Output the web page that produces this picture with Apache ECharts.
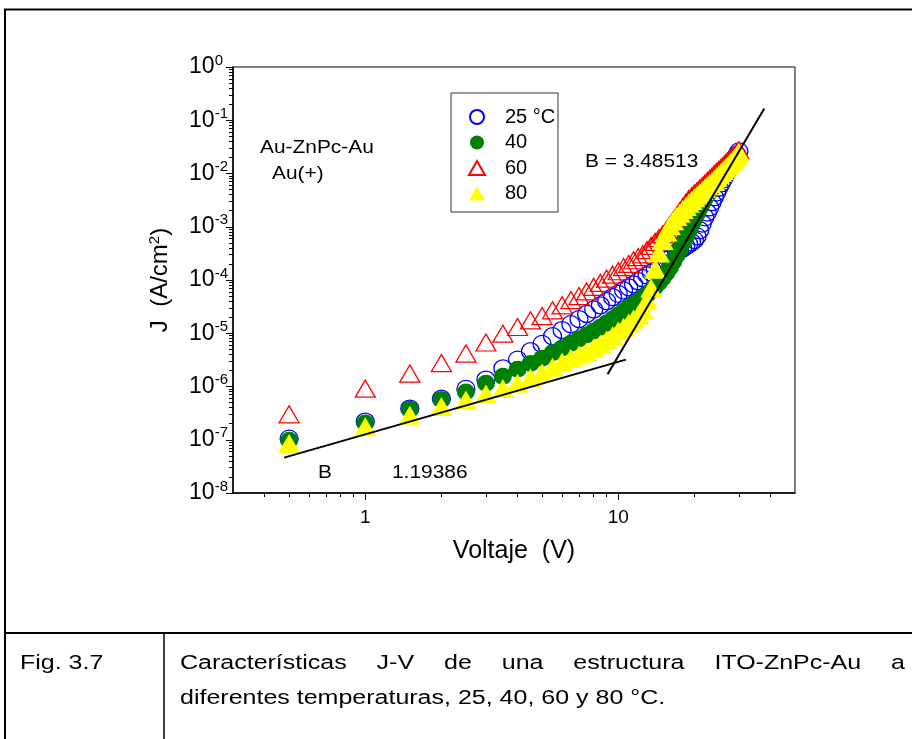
<!DOCTYPE html>
<html><head><meta charset="utf-8">
<script src="https://cdn.jsdelivr.net/npm/echarts@6/dist/echarts.min.js"></script>
<style>html,body{margin:0;padding:0;background:#fff}#c{width:912px;height:739px}</style>
</head><body><div id="c"></div><script>
const FONT = '"Liberation Sans", Arial, Helvetica, sans-serif';

// ---- data ----
const voltage = [0.5,1,1.5,2,2.5,3,3.5,4,4.5,5,5.5,6,6.5,7,7.5,8,8.5,9,9.5,10,
  10.5,11,11.5,12,12.5,13,13.5,14,14.5,15,15.5,16,16.5,17,17.5,18,18.5,19,19.5,20,
  20.5,21,21.5,22,22.5,23,23.5,24,24.5,25,25.5,26,26.5,27,27.5,28,28.5,29,29.5,30];

const j25 = [1.05e-7,2.2e-7,3.85e-7,5.9e-7,9.0e-7,1.35e-6,2.2e-6,3.2e-6,4.6e-6,6.3e-6,
  8.8e-6,1.15e-5,1.48e-5,1.85e-5,2.3e-5,2.8e-5,3.35e-5,4.0e-5,4.75e-5,5.5e-5,
  6.4e-5,7.3e-5,8.3e-5,9.5e-5,1.08e-4,1.22e-4,1.38e-4,1.55e-4,1.8e-4,2.1e-4,
  2.4e-4,2.7e-4,3.0e-4,3.3e-4,3.6e-4,3.9e-4,4.3e-4,4.7e-4,5.1e-4,5.6e-4,
  6.6e-4,8.6e-4,1.15e-3,1.5e-3,1.85e-3,2.3e-3,2.9e-3,3.6e-3,4.4e-3,5.4e-3,
  6.5e-3,7.8e-3,9.2e-3,1.08e-2,1.25e-2,1.45e-2,1.7e-2,1.95e-2,2.25e-2,2.6e-2];

const j40 = [9.8e-8,2.07e-7,3.73e-7,5.7e-7,7.9e-7,1.15e-6,1.55e-6,2.1e-6,2.7e-6,3.4e-6,
  4.3e-6,5.3e-6,6.5e-6,7.8e-6,9.3e-6,1.1e-5,1.3e-5,1.55e-5,1.85e-5,2.2e-5,
  2.6e-5,3.0e-5,3.5e-5,4.0e-5,4.6e-5,5.3e-5,6.2e-5,7.5e-5,9.0e-5,1.1e-4,
  1.35e-4,1.7e-4,2.2e-4,2.9e-4,3.8e-4,5.0e-4,6.5e-4,8.5e-4,1.1e-3,1.4e-3,
  1.8e-3,2.25e-3,2.8e-3,3.4e-3,4.0e-3,4.7e-3,5.4e-3,6.2e-3,7.0e-3,7.9e-3,
  8.8e-3,9.8e-3,1.08e-2,1.19e-2,1.3e-2,1.42e-2,1.55e-2,1.7e-2,1.85e-2,2.0e-2];

const j60 = [3.0e-7,9.1e-7,1.75e-6,2.75e-6,4.15e-6,6.7e-6,9.8e-6,1.31e-5,1.75e-5,2.1e-5,
  2.7e-5,3.35e-5,4.2e-5,5.0e-5,6.1e-5,7.4e-5,8.8e-5,1.06e-4,1.26e-4,1.46e-4,
  1.75e-4,2.0e-4,2.35e-4,2.7e-4,3.04e-4,3.64e-4,4.37e-4,5.18e-4,6.1e-4,7.2e-4,
  8.7e-4,1.08e-3,1.32e-3,1.61e-3,1.95e-3,2.35e-3,2.82e-3,3.29e-3,3.72e-3,4.18e-3,
  4.69e-3,5.23e-3,5.82e-3,6.49e-3,7.2e-3,7.9e-3,8.8e-3,9.7e-3,1.07e-2,1.17e-2,
  1.28e-2,1.4e-2,1.54e-2,1.67e-2,1.82e-2,1.97e-2,2.14e-2,2.32e-2,2.51e-2,2.72e-2];

const j80 = [8.5e-8,1.75e-7,2.9e-7,4.2e-7,5.6e-7,7.2e-7,9.2e-7,1.15e-6,1.45e-6,1.8e-6,
  2.3e-6,2.9e-6,3.4e-6,3.9e-6,4.5e-6,5.3e-6,6.3e-6,7.5e-6,9.0e-6,1.1e-5,
  1.3e-5,1.55e-5,1.85e-5,2.2e-5,2.8e-5,4.2e-5,7.0e-5,1.6e-4,3.2e-4,5.5e-4,
  8.0e-4,1.05e-3,1.3e-3,1.55e-3,1.8e-3,2.1e-3,2.4e-3,2.75e-3,3.1e-3,3.5e-3,
  3.9e-3,4.35e-3,4.8e-3,5.3e-3,5.9e-3,6.5e-3,7.1e-3,7.8e-3,8.6e-3,9.5e-3,
  1.04e-2,1.14e-2,1.25e-2,1.37e-2,1.5e-2,1.65e-2,1.82e-2,2.0e-2,2.2e-2,2.5e-2];

const fitLowV = [0.478, 10.72];
const fitLowJ = [4.62e-8, 3.2e-6];
const fitHighV = [9.08, 37.8];
const fitHighJ = [1.7e-6, 0.166];

const seriesNames = ['25 °C', '40', '60', '80'];
const xMajorTicks = [1, 10];
const xMinorTicks = [0.4,0.5,0.6,0.7,0.8,0.9,2,3,4,5,6,7,8,9,20,30,40];
const yDecades = [1e-8,1e-7,1e-6,1e-5,1e-4,1e-3,1e-2,1e-1,1];
const yMinorMultipliers = [2,3,4,5,6,7,8,9];

const captionLabel = 'Fig. 3.7';
const captionLine1 = ['Características','J-V','de','una','estructura','ITO-ZnPc-Au','a'];
const captionLine2 = 'diferentes temperaturas, 25, 40, 60 y 80 °C.';

// ---- build ----
const pair = (xs, ys) => xs.map((v, i) => [v, ys[i]]);
const yMinorTicks = [];
yDecades.slice(0, -1).forEach(d => yMinorMultipliers.forEach(m => yMinorTicks.push(d * m)));

const chart = echarts.init(document.getElementById('c'), null, {renderer: 'canvas'});

const black = '#000';
const xBase = {type: 'log', logBase: 10, min: 0.3, max: 50, gridIndex: 0, position: 'bottom',
  splitLine: {show: false}, minorTick: {show: false}, minorSplitLine: {show: false}};
const yBase = {type: 'log', logBase: 10, min: 1e-8, max: 1, gridIndex: 0, position: 'left',
  splitLine: {show: false}, minorTick: {show: false}, minorSplitLine: {show: false}};

// caption (horizontally stretched like the reference) with justified first line
const capScale = 1.25;
const ctx = document.createElement('canvas').getContext('2d');
const capFont = '20px "Liberation Sans"';
ctx.font = capFont;
const wWidths = captionLine1.map(w => ctx.measureText(w).width * capScale);
const capX0 = 180, capX1 = 905;
const capGap = (capX1 - capX0 - wWidths.reduce((a, b) => a + b, 0)) / (captionLine1.length - 1);

const txt = (s, x, y, font, sx) => ({type: 'text', x: x, y: y, scaleX: sx || 1, silent: true, z: 100,
  style: {text: s, font: font, fill: black, align: 'left', verticalAlign: 'middle'}});
const line = (x1, y1, x2, y2, w) => ({type: 'line', silent: true, z: 100,
  shape: {x1: x1, y1: y1, x2: x2, y2: y2}, style: {stroke: black, lineWidth: w}});

const capWords = [];
let cx = capX0;
captionLine1.forEach((w, i) => {
  capWords.push(txt(w, cx, 663, capFont, capScale));
  cx += wWidths[i] + capGap;
});

const annFont = '19px "Liberation Sans"';
const annScale = 1.1;

const option = {
  animation: false,
  backgroundColor: '#fff',
  textStyle: {fontFamily: FONT},
  grid: {left: 233, top: 67, width: 562, height: 426, show: true,
    borderColor: black, borderWidth: 1, backgroundColor: 'transparent'},
  legend: {
    data: seriesNames, orient: 'vertical', left: 468, top: 107, padding: 0,
    itemWidth: 16, itemHeight: 14, itemGap: 5.5, selectedMode: false,
    textStyle: {fontSize: 20, color: black, fontFamily: FONT, padding: [0, 0, 0, 15]}
  },
  xAxis: [
    Object.assign({}, xBase, {
      name: 'Voltaje  (V)', nameLocation: 'middle', nameGap: 46,
      nameTextStyle: {fontSize: 25, color: black, fontFamily: FONT},
      axisLine: {show: true, lineStyle: {color: black, width: 1.5}},
      axisTick: {show: true, inside: false, length: 4, customValues: xMinorTicks, lineStyle: {color: black, width: 1}},
      axisLabel: {show: true, customValues: xMajorTicks, formatter: v => String(v),
        fontSize: 19, color: black, fontFamily: FONT, margin: 15}
    }),
    Object.assign({}, xBase, {
      axisLine: {show: false},
      axisTick: {show: true, inside: false, length: 7, customValues: xMajorTicks, lineStyle: {color: black, width: 1}},
      axisLabel: {show: false}
    })
  ],
  yAxis: [
    Object.assign({}, yBase, {
      name: '{a|J  (A/cm}{s|2}{a|)}', nameLocation: 'middle', nameGap: 60, nameRotate: 90,
      nameTextStyle: {color: black, fontFamily: FONT,
        rich: {a: {fontSize: 24, color: black, fontFamily: FONT, lineHeight: 26},
               s: {fontSize: 15, color: black, fontFamily: FONT, verticalAlign: 'top', lineHeight: 26}}},
      axisLine: {show: true, lineStyle: {color: black, width: 1.5}},
      axisTick: {show: true, inside: false, length: 4, customValues: yMinorTicks, lineStyle: {color: black, width: 1}},
      axisLabel: {show: true, customValues: yDecades, margin: 5,
        formatter: v => {
          const e = Math.round(Math.log10(v));
          return '{b|10}{' + (e < 0 ? 's' : 'p') + '|' + e + '}';
        },
        rich: {b: {fontSize: 23, color: black, fontFamily: FONT, lineHeight: 28},
               s: {fontSize: 15, color: black, fontFamily: FONT, verticalAlign: 'top', lineHeight: 28},
               p: {fontSize: 15, color: black, fontFamily: FONT, verticalAlign: 'top', lineHeight: 28, padding: [0, 5, 0, 0]}}}
    }),
    Object.assign({}, yBase, {
      axisLine: {show: false},
      axisTick: {show: true, inside: false, length: 7, customValues: yDecades, lineStyle: {color: black, width: 1}},
      axisLabel: {show: false}
    })
  ],
  series: [
    {name: seriesNames[0], type: 'scatter', xAxisIndex: 0, yAxisIndex: 0, data: pair(voltage, j25),
      symbol: 'circle', symbolSize: [18, 17], z: 2,
      itemStyle: {color: 'rgba(255,255,255,0)', borderColor: '#0000ff', borderWidth: 1.3, opacity: 1}},
    {name: seriesNames[1], type: 'scatter', xAxisIndex: 0, yAxisIndex: 0, data: pair(voltage, j40),
      symbol: 'circle', symbolSize: [18, 17], z: 3, itemStyle: {color: '#008000', opacity: 1}},
    {name: seriesNames[2], type: 'scatter', xAxisIndex: 0, yAxisIndex: 0, data: pair(voltage, j60),
      symbol: 'triangle', symbolSize: [20, 17], z: 4,
      itemStyle: {color: 'rgba(255,255,255,0)', borderColor: '#ff0000', borderWidth: 1.3, opacity: 1}},
    {name: seriesNames[3], type: 'scatter', xAxisIndex: 0, yAxisIndex: 0, data: pair(voltage, j80),
      symbol: 'triangle', symbolSize: [22, 19], z: 5, itemStyle: {color: '#ffff00', opacity: 1}},
    {type: 'line', xAxisIndex: 0, yAxisIndex: 0, data: pair(fitLowV, fitLowJ), symbol: 'none', z: 10,
      silent: true, lineStyle: {color: black, width: 2}},
    {type: 'line', xAxisIndex: 0, yAxisIndex: 0, data: pair(fitHighV, fitHighJ), symbol: 'none', z: 10,
      silent: true, lineStyle: {color: black, width: 2}}
  ],
  graphic: [
    // page frame / caption table
    line(5, 9, 5, 739, 2),
    line(4, 9.5, 912, 9.5, 2),
    line(4, 633, 912, 633, 2),
    line(164, 633, 164, 739, 1.5),
    // legend box
    {type: 'rect', silent: true, z: 100, shape: {x: 451, y: 93, width: 107, height: 119},
      style: {fill: 'none', stroke: '#333', lineWidth: 1}},
    // annotations
    txt('Au-ZnPc-Au', 260, 147.5, annFont, annScale),
    txt('Au(+)', 272, 173.5, annFont, annScale),
    txt('B = 3.48513', 585, 162, annFont, annScale),
    txt('B', 318, 473, annFont, annScale),
    txt('1.19386', 392, 473, annFont, annScale),
    // caption
    txt(captionLabel, 20, 663, capFont, capScale),
    txt(captionLine2, capX0, 698, capFont, capScale)
  ].concat(capWords)
};
chart.setOption(option);
</script></body></html>
